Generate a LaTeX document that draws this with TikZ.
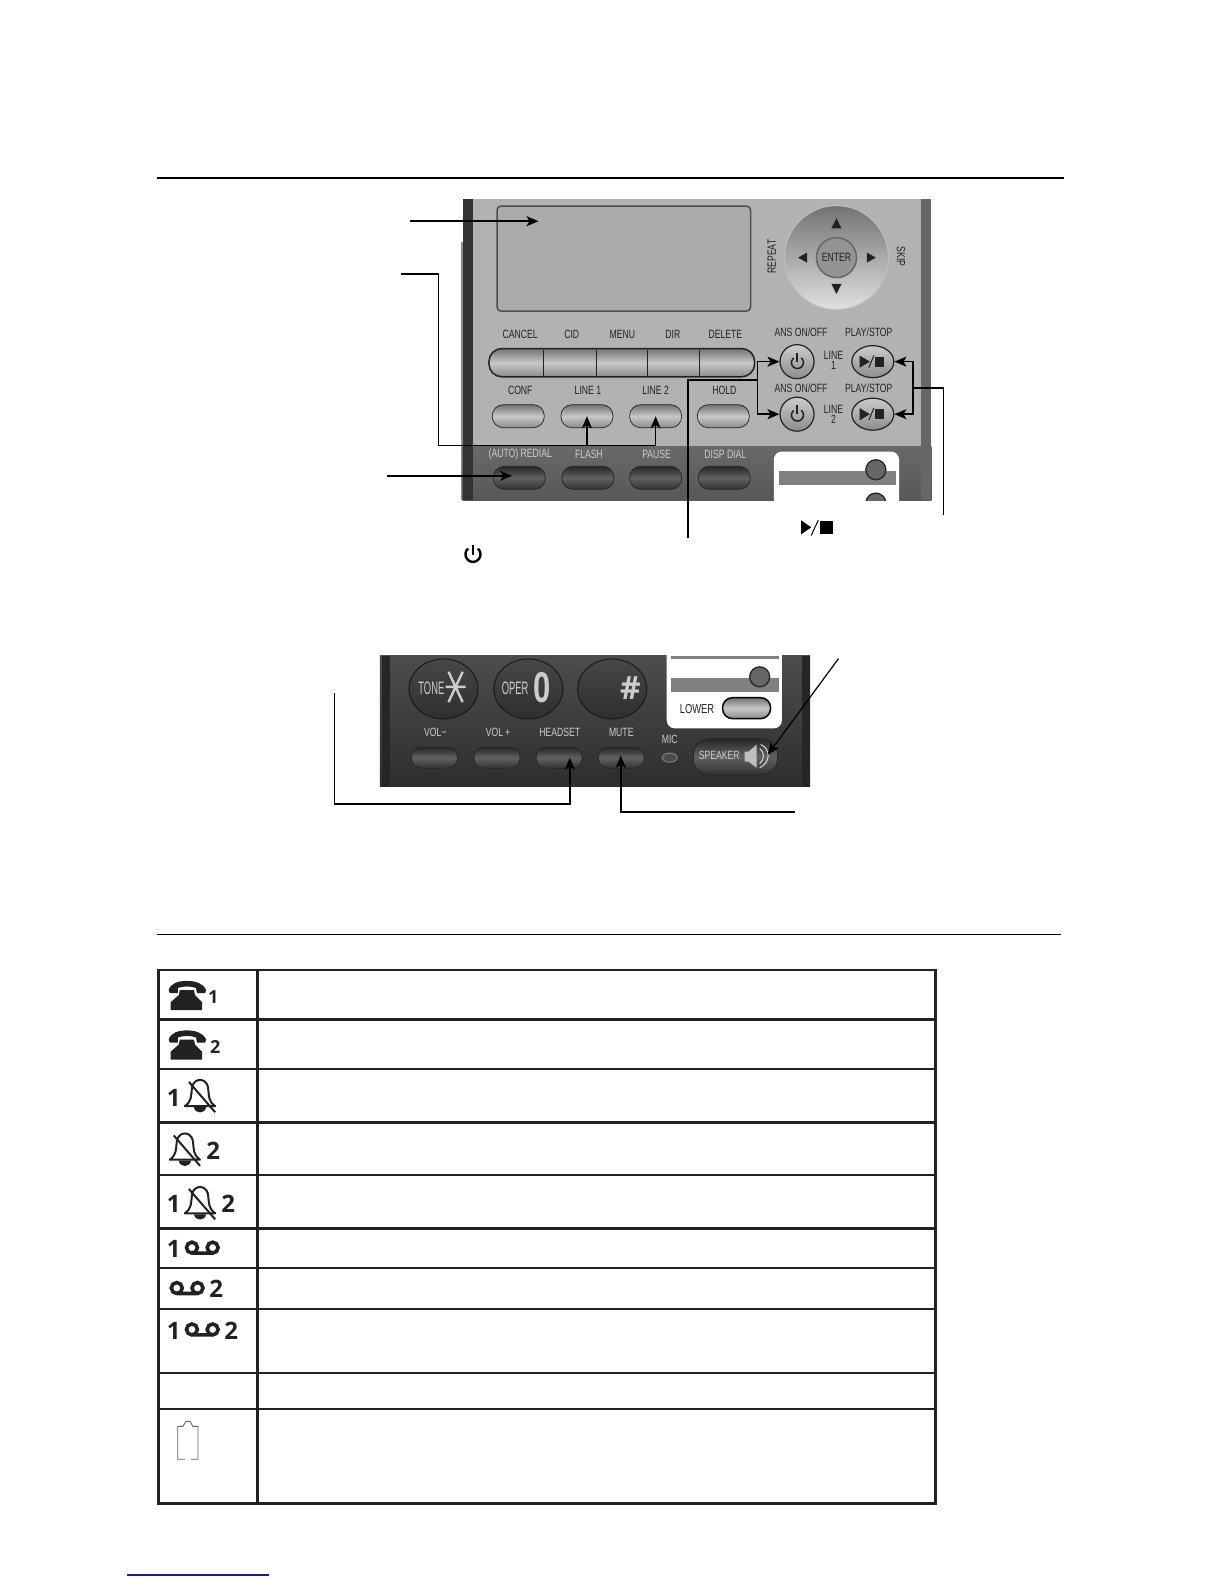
\documentclass[tikz,border=0pt]{standalone}
\usepackage{fontspec}
\usetikzlibrary{arrows.meta,calc,shapes.geometric}
\newfontfamily\panelfont[FakeStretch=0.72]{Liberation Sans}
\newfontfamily\narrowfont[FakeStretch=0.52]{Liberation Sans}
\newfontfamily\iconfont{Open Sans}
\definecolor{panelgray}{HTML}{B2B2B2}
\definecolor{banddark}{HTML}{585858}
\definecolor{bardark}{HTML}{333333}
\definecolor{inkdark}{HTML}{222222}
\definecolor{linkblue}{HTML}{1A1A9C}
\tikzset{
	softkey/.style={draw=inkdark,line width=.7pt,rounded corners=11pt,minimum width=52pt,minimum height=23pt,inner sep=0pt,top color=black!55,bottom color=black!45,middle color=black!22},
	darkkey/.style={draw=black!85,line width=.7pt,rounded corners=11pt,minimum width=52pt,minimum height=23pt,inner sep=0pt,top color=black!85,bottom color=black!80,middle color=black!62},
	lowkey/.style={darkkey,minimum width=46pt,minimum height=21pt,rounded corners=10pt},
	roundkey/.style={circle,draw=inkdark,line width=1.2pt,minimum size=34pt,inner sep=0pt,top color=black!20,bottom color=black!45},
	playkey/.style={ellipse,draw=inkdark,line width=1.2pt,minimum width=42pt,minimum height=32pt,inner sep=0pt,top color=black!20,bottom color=black!45},
	padkey/.style={ellipse,draw=black!90,line width=1pt,minimum width=69pt,minimum height=60pt,inner sep=0pt,top color=black!72,bottom color=black!82},
	lbl/.style={font=\panelfont\fontsize{12}{12}\selectfont,text=inkdark,inner sep=0pt},
	lblw/.style={lbl,text=black!20},
	padlbl/.style={lblw,font=\narrowfont\fontsize{18}{18}\selectfont},
	lead/.style={line width=1.5pt,color=black},
	iconnum/.style={font=\iconfont\bfseries\fontsize{24}{24}\selectfont,text=inkdark,inner sep=0pt},
	pics/phoneicon/.style={code={
		\fill[inkdark] (0,9) .. controls (2,2) and (10,0) .. (18,0) .. controls (26,0) and (34,2) .. (37,9) -- (36,12) -- (28,12) -- (27,7) .. controls (22,5) and (14,5) .. (9,7) -- (9,12) -- (1,12) -- cycle;
		\fill[inkdark] (11,9) -- (25,9) -- (26,14) -- (33,21) -- (33,29) -- (2,29) -- (2,21) -- (10,14) -- cycle;
	}},
	pics/bellicon/.style={code={
		\draw[inkdark,line width=2pt,line join=round] (-15,10) .. controls (-8,5) and (-9,0) .. (-8,-8) .. controls (-7,-15) and (-2,-16) .. (0,-16) .. controls (2,-16) and (7,-15) .. (8,-8) .. controls (9,0) and (8,5) .. (15,10) -- cycle;
		\fill[inkdark] (-6,11) .. controls (-5,18) and (5,18) .. (6,11) -- cycle;
		\draw[inkdark,line width=2pt] (-11,-14) -- (15,16);
	}},
	pics/tapeicon/.style={code={
		\draw[inkdark,line width=3.6pt] (7,7) circle (5.4) (27.5,7) circle (5.4) (7,12.4) -- (27.5,12.4);
	}},
}
\begin{document}
\begin{tikzpicture}[x=1.01pt,y=-1.01pt,>={Stealth[length=12pt,width=10pt,inset=3pt]},line cap=butt]
	\useasboundingbox (0,0) rectangle (1212,1568);
	\fill[white] (0,0) rectangle (1212,1568);
	\draw[line width=1.5pt] (155,176) -- (1053,176);
	\draw[line width=1.5pt] (155,925) -- (1050,925);
	% upper panel
	\fill[black!45] (456,240) rectangle (460,495);
	\fill[panelgray] (458,197) rectangle (922,442);
	\shade[top color=banddark!90,bottom color=banddark] (458,442) rectangle (922,495);
	\fill[bardark] (458,197) rectangle (468,495);
	\fill[black!60] (912,197) rectangle (922,495);
	\draw[inkdark!80,line width=1.5pt,rounded corners=4pt,fill=black!33] (492,204) rectangle (743,308);
	% navigation ring
	\node[circle,draw=black!25,line width=1pt,minimum size=104pt,top color=black!55,bottom color=black!12] (navring) at (828,255) {};
	\node[circle,draw=black!60,line width=1.5pt,minimum size=40pt,inner sep=0pt,fill=black!42] (enter) at (828,255) {};
	\node[lbl] at (enter) {ENTER};
	\fill[inkdark] (828,216) -- (823,226) -- (833,226) -- cycle;
	\fill[inkdark] (828,291) -- (823,281) -- (833,281) -- cycle;
	\fill[inkdark] (790,255) -- (799,250) -- (799,260) -- cycle;
	\fill[inkdark] (867,255) -- (858,250) -- (858,260) -- cycle;
	\node[lbl,rotate=90] at (764,254) {REPEAT};
	\node[lbl,rotate=-90] at (892,254) {SKIP};
	% top keys
	\foreach \x/\t in {515/CANCEL,566/CID,616/MENU,666/DIR,718/DELETE}
		\node[lbl] at (\x,331) {\t};
	\draw[inkdark,line width=1.5pt,rounded corners=13pt,top color=black!55,bottom color=black!45,middle color=black!22] (484,345) rectangle (747,373);
	\foreach \x in {538,590,641,692}
		\draw[inkdark,line width=.8pt] (\x,346) -- (\x,372);
	\foreach \x/\t in {515/CONF,582/LINE 1,649/LINE 2,717/HOLD}
		\node[lbl] at (\x,386) {\t};
	\node[softkey] (confkey) at (513,412) {};
	\node[softkey] (linea) at (581,412) {};
	\node[softkey] (lineb) at (649,412) {};
	\node[softkey] (holdkey) at (716,412) {};
	\foreach \x/\t in {515/(AUTO) REDIAL,583/FLASH,650/PAUSE,718/DISP DIAL}
		\node[lblw] at (\x,450) {\t};
	\node[darkkey] (redial) at (514,473) {};
	\node[darkkey] (flash) at (582,473) {};
	\node[darkkey] (pausekey) at (649,473) {};
	\node[darkkey] (dispdial) at (717,473) {};
	% right keys
	\foreach \y in {329,384}{
		\node[lbl] at (793,\y) {ANS ON/OFF};
		\node[lbl] at (860,\y) {PLAY/STOP};
	}
	\node[roundkey] (ansa) at (789,358) {};
	\node[roundkey] (ansb) at (789,410) {};
	\node[playkey] (playa) at (864,358) {};
	\node[playkey] (playb) at (864,410) {};
	\foreach \n/\y/\d in {ansa/352/1,ansb/405/2}{
		\node[lbl] at (825,\y) {LINE};
		\node[lbl] at (825,\y+10) {\d};
		\draw[inkdark,line width=1.5pt] ($(\n)+(4.2,-3.8)$) arc[start angle=310,end angle=590,radius=6];
		\draw[inkdark,line width=1.5pt] ($(\n)+(0,-9)$) -- ($(\n)+(0,0)$);
	}
	\foreach \n in {playa,playb}{
		\fill[inkdark] ($(\n)+(-13,-6)$) -- ($(\n)+(-3,0)$) -- ($(\n)+(-13,6)$) -- cycle;
		\draw[inkdark,line width=1pt] ($(\n)+(-4,6)$) -- ($(\n)+(1,-6)$);
		\fill[inkdark] ($(\n)+(2,-5)$) rectangle ($(\n)+(11,5)$);
	}
	% small card
	\begin{scope}
		\clip (750,440) rectangle (900,495);
		\fill[white,rounded corners=8pt] (766,447) rectangle (890,520);
		\fill[black!50] (771,466) rectangle (887,480);
		\node[circle,draw=black!85,line width=1.3pt,minimum size=20pt,inner sep=0pt,fill=black!60] (knoba) at (867,465) {};
		\node[circle,draw=black!85,line width=1.3pt,minimum size=20pt,inner sep=0pt,fill=black!60] (knobb) at (867,498) {};
	\end{scope}
	% leaders upper
	\coordinate (lcdstart) at (406,219);
	\coordinate (lcdtip) at (533,219);
	\draw[lead,->] (lcdstart) -- (lcdtip);
	\coordinate (linestart) at (397,271);
	\coordinate (linejoin) at (434,441);
	\draw[lead] (linestart) -| (linejoin) -- (linejoin -| lineb);
	\draw[lead,->] (linejoin -| linea) -- (linea.center);
	\draw[lead,->] (linejoin -| lineb) -- (lineb.center);
	\coordinate (redialstart) at (383,471);
	\coordinate (redialtip) at (507,471);
	\draw[lead,->] (redialstart) -- (redialtip);
	\coordinate (ansstart) at (681,533);
	\coordinate (ansfork) at (750,376);
	\draw[lead] (ansstart) |- (ansfork);
	\draw[lead,->] (ansfork) |- (ansa.west);
	\draw[lead,->] (ansfork) |- (ansb.west);
	\coordinate (playstart) at (934,510);
	\coordinate (playfork) at (904,384);
	\draw[lead] (playstart) |- (playfork);
	\draw[lead,->] (playfork) |- (playa.east);
	\draw[lead,->] (playfork) |- (playb.east);
	% loose symbols
	\fill[black] (793,515) -- (803,522) -- (793,529) -- cycle;
	\draw[black,line width=1pt] (803,530) -- (810,515);
	\fill[black] (812,516) rectangle (825,529);
	\draw[black,line width=2.4pt] (473,543) arc[start angle=310,end angle=590,radius=7.5];
	\draw[black,line width=2.4pt] (468,539) -- (468,549);
	% lower panel
	\shade[top color=black!70,bottom color=black!82] (376,649) rectangle (802,779);
	\fill[black!85] (378,649) rectangle (386,779);
	\fill[black!85] (794,649) rectangle (802,779);
	\node[padkey] (tonekey) at (439,682) {};
	\node[padkey] (operkey) at (523,682) {};
	\node[padkey] (hashkey) at (606,682) {};
	\node[padlbl] at (427,681) {TONE};
	\node[padlbl] at (510,681) {OPER};
	\draw[black!20,line width=2.4pt] (444,665) -- (458,695) (458,665) -- (444,695) (441,680) -- (461,680);
	\node[lblw,font=\panelfont\bfseries\fontsize{43}{43}\selectfont] at (537,681) {0};
	\node[lblw,font=\iconfont\bfseries\fontsize{32}{32}\selectfont] at (624,681) {\#};
	\fill[white,rounded corners=8pt] (660,640) rectangle (774,721);
	\fill[white] (660,649) rectangle (774,660);
	\fill[black!50] (664,649) rectangle (771,652);
	\fill[black!50] (664,671) rectangle (771,685);
	\node[circle,draw=black!85,line width=1.3pt,minimum size=20pt,inner sep=0pt,fill=black!60] (knobc) at (752,670) {};
	\node[lbl,font=\panelfont\fontsize{13}{13}\selectfont] at (690,702) {LOWER};
	\node[softkey,draw=black,line width=1.5pt,minimum width=48pt,minimum height=21pt,rounded corners=10pt] (lowerkey) at (739,701) {};
	\foreach \x/\t in {431/VOL\textminus,493/VOL\,+,554/HEADSET,615/MUTE}
		\node[lblw] at (\x,725) {\t};
	\node[lblw] at (663,732) {MIC};
	\node[lowkey] (volminus) at (430,750) {};
	\node[lowkey] (volplus) at (492,750) {};
	\node[lowkey] (headset) at (553.5,750) {};
	\node[lowkey] (mutekey) at (615,750) {};
	\node[ellipse,draw=black!50,fill=black!70,line width=1pt,minimum width=15pt,minimum height=9pt,inner sep=0pt] (mic) at (663,750) {};
	\node[lowkey,minimum width=84pt,minimum height=36pt,rounded corners=16pt] (speaker) at (728,749) {};
	\node[lblw] at (712,748) {SPEAKER};
	\fill[black!25] (737,744) -- (741,744) -- (749,737) -- (749,760) -- (741,754) -- (737,754) -- cycle;
	\draw[black!15,line width=1pt] (752,741) .. controls (757,744) and (757,752) .. (752,756);
	\draw[black!15,line width=1pt] (753,737) .. controls (763,741) and (763,755) .. (752,760);
	% leaders lower
	\coordinate (headstart) at (331,686);
	\coordinate (headturn) at (564,796);
	\coordinate (headtip) at (564,750);
	\draw[lead,->] (headstart) |- (headturn) -- (headtip);
	\coordinate (mutestart) at (787,804);
	\coordinate (muteturn) at (614.5,804);
	\coordinate (mutetip) at (614.5,748);
	\draw[lead,->] (mutestart) -- (muteturn) -- (mutetip);
	\coordinate (spkstart) at (830,652);
	\coordinate (spktip) at (760,747);
	\draw[lead,line width=1.2pt,->] (spkstart) -- (spktip);
	% status table
	\draw[inkdark,line width=2.6pt] (157,960) rectangle (926,1488);
	\draw[inkdark,line width=2.6pt] (255,960) -- (255,1488);
	\foreach \y/\w in {1009/2.4,1058/1.8,1111/2.4,1163/2,1216/2.4,1255/2.4,1296/1.8,1359/2.4,1395/1.8}
		\draw[inkdark,line width=\w pt] (157,\y) -- (926,\y);
	\pic at (167,971) {phoneicon};
	\pic at (167,1020) {phoneicon};
	\node[iconnum,font=\iconfont\bfseries\fontsize{18}{18}\selectfont] (numa) at (211,987) {1};
	\node[iconnum,font=\iconfont\bfseries\fontsize{18}{18}\selectfont] (numb) at (213,1036) {2};
	\node[iconnum] at (172,1087) {1};
	\pic at (198,1085) {bellicon};
	\pic at (183,1138) {bellicon};
	\node[iconnum] at (211,1139) {2};
	\node[iconnum] at (172,1192) {1};
	\pic at (198,1191) {bellicon};
	\node[iconnum] at (226,1192) {2};
	\node[iconnum] at (172,1236) {1};
	\pic at (183,1228) {tapeicon};
	\pic at (168,1268) {tapeicon};
	\node[iconnum] at (214,1276) {2};
	\node[iconnum] at (172,1317) {1};
	\pic at (183,1309) {tapeicon};
	\node[iconnum] at (229,1317) {2};
	% battery outline
	\draw[black!60,line width=.9pt] (183,1444.5) -- (176,1444.5) -- (176,1412) -- (181,1412) -- (184,1407) -- (188,1407) -- (191,1412) -- (196,1412) -- (196,1444.5) -- (189,1444.5);
	% link rule
	\draw[linkblue,line width=1.2pt] (126,1559) -- (266,1559);
\end{tikzpicture}
\end{document}
